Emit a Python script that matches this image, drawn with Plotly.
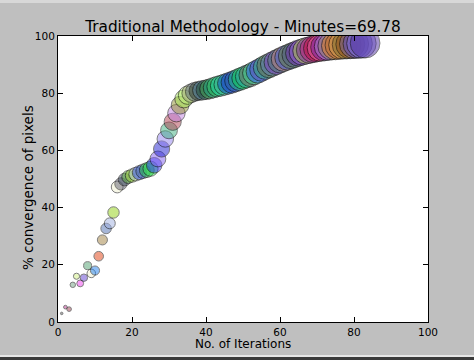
import plotly.graph_objects as go

iterations = list(range(1, 84))
convergence = [
    3.0, 5.2, 4.5, 13.0, 16.0, 13.5, 15.5, 19.7, 17.0, 18.0,
    23.0, 28.7, 32.7, 34.5, 38.3, 47.2, 48.3, 49.8, 50.7, 51.2,
    51.7, 52.2, 52.7, 53.1, 53.6, 54.8, 57.0, 60.5, 64.0, 67.0,
    70.0, 73.0, 75.8, 78.0, 79.3, 80.0, 80.5, 80.8, 81.0, 81.2,
    81.5, 81.9, 82.3, 82.6, 83.0, 83.4, 83.8, 84.3, 84.8, 85.3,
    85.8, 86.3, 87.0, 87.6, 88.3, 89.0, 89.6, 90.2, 90.8, 91.4,
    92.0, 92.5, 93.0, 93.5, 94.0, 94.4, 94.8, 95.1, 95.4, 95.7,
    95.9, 96.1, 96.3, 96.5, 96.6, 96.8, 96.9, 97.0, 97.1, 97.2,
    97.3, 97.4, 97.5,
]
title_text = "Traditional Methodology - Minutes=69.78"
x_label = "No. of Iterations"
y_label = "% convergence of pixels"
tick_vals = [0, 20, 40, 60, 80, 100]

palette = [
    "#555555", "#c03090", "#a04050", "#70a080", "#d0f080", "#f040f0", "#6040d0", "#50a070", "#f0f0d0", "#2080f0",
    "#e04010", "#a08040", "#5070b0", "#a0b0e0", "#90d010", "#f0f0d0", "#606070", "#405060", "#60b040", "#a0d040",
    "#b0c0d0", "#3050e0", "#5070a0", "#20c040", "#30e050", "#3030f0", "#8060f0", "#2020d0", "#9080f0", "#40b080",
    "#b04050", "#c080e0", "#909030", "#a0e050", "#c0f080", "#a0a080", "#607080", "#304030", "#5080a0", "#205030",
    "#40a050", "#20a080", "#30c060", "#20d0a0", "#40b090", "#1050c0", "#2040d0", "#3060a0", "#20c080", "#10d050",
    "#30a0a0", "#807060", "#40d090", "#3060f0", "#6050c0", "#30b070", "#707050", "#6080b0", "#8040c0", "#508070",
    "#c08080", "#4060d0", "#608040", "#506080", "#7030b0", "#9060d0", "#b0d040", "#8030a0", "#c02080", "#c01040",
    "#e060a0", "#7020a0", "#a080d0", "#909070", "#e08020", "#c07030", "#d0a050", "#807030", "#905020", "#7060a0",
    "#6050c0", "#8070e0", "#5030a0",
]

sizes = [2.5 * (v ** 0.56) for v in iterations]

fig = go.Figure()
fig.add_trace(go.Scatter(
    x=iterations, y=convergence, mode="markers",
    marker=dict(size=sizes, color=palette[:len(iterations)], opacity=0.5,
                line=dict(color="black", width=1)),
    cliponaxis=True, showlegend=False, hoverinfo="skip",
))

font = "DejaVu Sans, sans-serif"
axis_common = dict(
    range=[0, 100], tickvals=tick_vals, ticks="inside", ticklen=5, tickwidth=1,
    tickcolor="black", showline=True, linecolor="black", linewidth=1,
    mirror="allticks", showgrid=False, zeroline=False, automargin=False,
    tickfont=dict(family=font, size=10.5, color="black"),
)

L, R, T, B, W, H = 58, 46, 36, 38, 474, 360
pw, ph = W - L - R, H - T - B

fig.update_layout(
    width=W, height=H,
    margin=dict(l=L, r=R, t=T, b=B, autoexpand=False),
    paper_bgcolor="#bfbfbf", plot_bgcolor="white",
    title=dict(text=title_text, x=0.5, xanchor="center", xref="paper",
               y=1 - 27 / H, yanchor="middle",
               font=dict(family=font, size=15.3, color="black")),
    xaxis=dict(**axis_common),
    yaxis=dict(**axis_common),
    annotations=[
        dict(text=x_label, xref="paper", yref="paper", x=0.5,
             y=(H - B - 344) / ph, xanchor="center", yanchor="middle",
             showarrow=False, font=dict(family=font, size=12, color="black")),
        dict(text=y_label, xref="paper", yref="paper", x=(28 - L) / pw,
             y=(H - B - 188) / ph, xanchor="center", yanchor="middle",
             textangle=-90, showarrow=False,
             font=dict(family=font, size=13.5, color="black")),
    ],
    shapes=[
        dict(type="rect", xref="paper", yref="paper", x0=-0.2, x1=1.2,
             y0=(357 - B) / ph, y1=(362 - B) / ph,
             fillcolor="#d8d8d8", line=dict(width=0), layer="above"),
        dict(type="rect", xref="paper", yref="paper", x0=-0.2, x1=1.2,
             y0=(3 - B) / ph, y1=(5 - B) / ph,
             fillcolor="#e6e6e6", line=dict(width=0), layer="above"),
        dict(type="rect", xref="paper", yref="paper", x0=-0.2, x1=1.2,
             y0=(-2 - B) / ph, y1=(3 - B) / ph,
             fillcolor="#3a3a3a", line=dict(width=0), layer="above"),
    ],
)

fig.write_html("out.html", config={"displayModeBar": False},
               post_script="document.body.style.margin='0';document.body.style.overflow='hidden';")
